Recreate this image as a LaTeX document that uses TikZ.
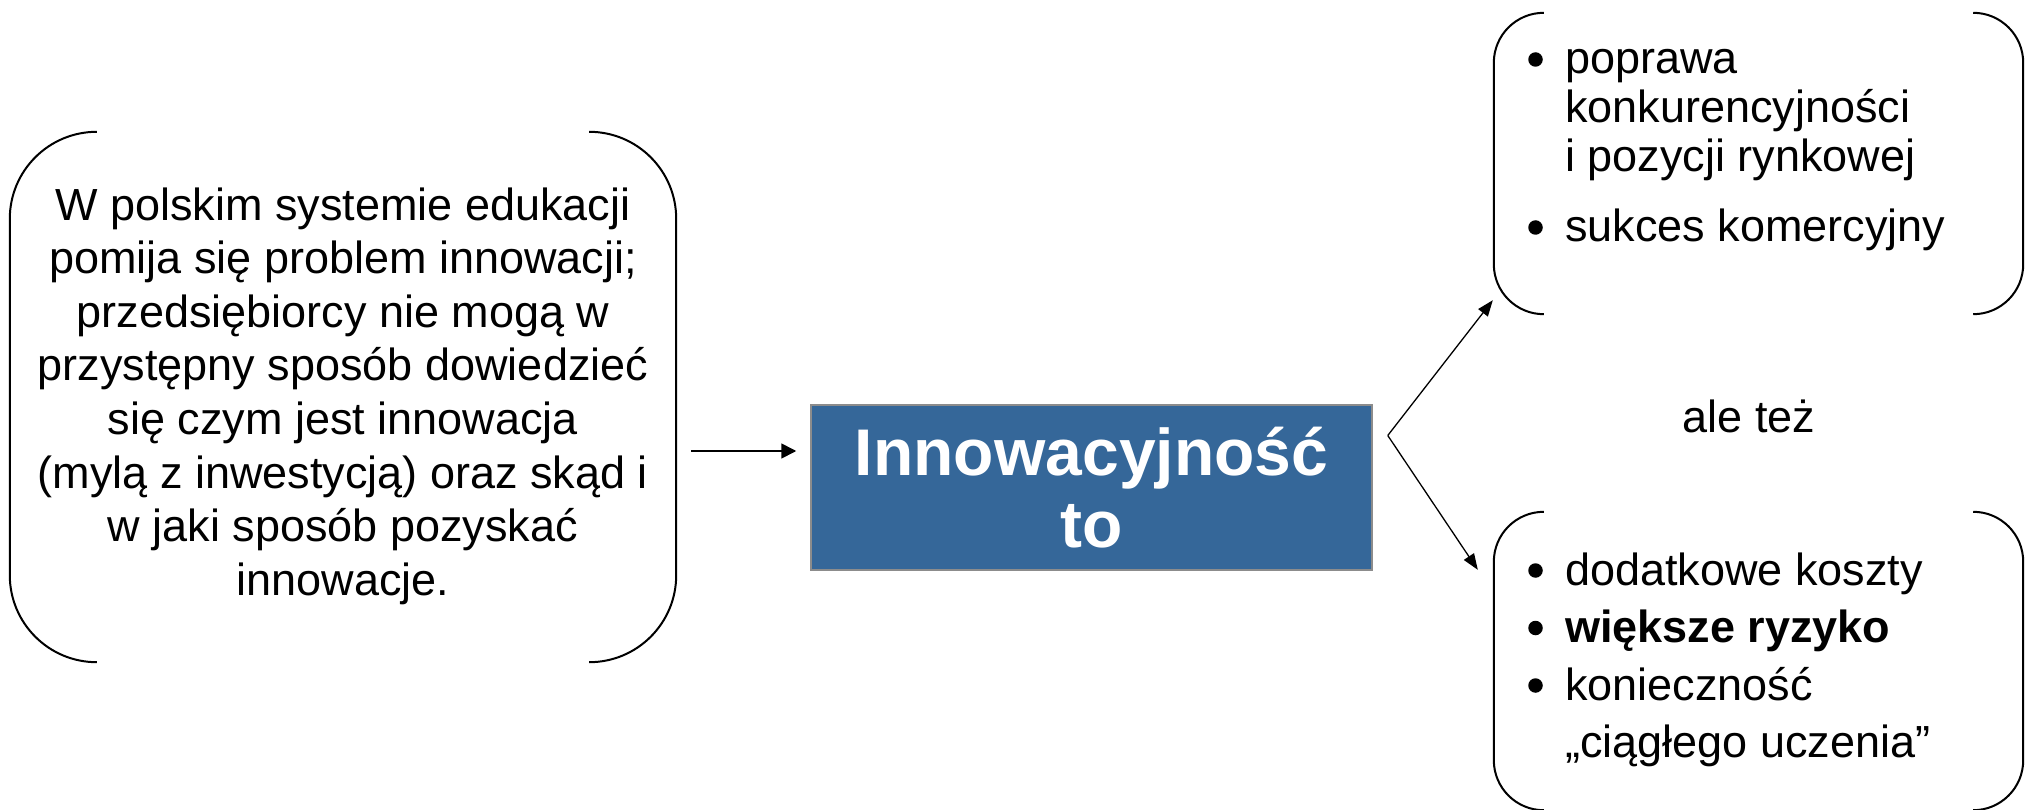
\documentclass[tikz,border=0pt]{standalone}
\usepackage{fontspec}
\setmainfont{Liberation Sans}
\usetikzlibrary{arrows.meta,calc}
\definecolor{boxblue}{RGB}{53,103,153}
\definecolor{boxedge}{RGB}{140,140,140}
\begin{document}
\begin{tikzpicture}[x=1pt,y=-1pt,
  area/.style={inner sep=0pt, minimum width=#1},
  br/.style={draw=black, line width=2pt, rounded corners=#1},
  arr/.style={line width=1.7pt, -{Triangle[length=15pt,width=15pt]}},
  fork/.style={line width=1.3pt, -{Triangle[length=16pt,width=12pt]}},
  txt/.style={inner sep=0pt, font=\fontsize{45}{53.6}\selectfont},
  bul/.style={circle, fill=black, inner sep=0pt, minimum size=14.5pt},
]
\useasboundingbox (0,0) rectangle (2028,810);

% bracket areas
\node[area=666, minimum height=530] (L) at (343,397) {};
\node[area=529, minimum height=301] (TR) at (1758.5,163.5) {};
\node[area=529, minimum height=298] (BR) at (1758.5,661) {};

% bracket pairs
\draw[br=87] ($(L.north west)+(87,0)$) -- (L.north west) -- (L.south west) -- ($(L.south west)+(87,0)$);
\draw[br=87] ($(L.north east)+(-87,0)$) -- (L.north east) -- (L.south east) -- ($(L.south east)+(-87,0)$);
\draw[br=50] ($(TR.north west)+(50,0)$) -- (TR.north west) -- (TR.south west) -- ($(TR.south west)+(50,0)$);
\draw[br=50] ($(TR.north east)+(-50,0)$) -- (TR.north east) -- (TR.south east) -- ($(TR.south east)+(-50,0)$);
\draw[br=50] ($(BR.north west)+(50,0)$) -- (BR.north west) -- (BR.south west) -- ($(BR.south west)+(50,0)$);
\draw[br=50] ($(BR.north east)+(-50,0)$) -- (BR.north east) -- (BR.south east) -- ($(BR.south east)+(-50,0)$);

% left text (base = last line's baseline)
\node[txt, anchor=base, align=center] (Ltext) at (343,595.2)
  {W polskim systemie edukacji\\
   pomija się problem innowacji;\\
   przedsiębiorcy nie mogą w\\
   przystępny sposób dowiedzieć\\
   się czym jest innowacja\\
   (mylą z inwestycją) oraz skąd i\\
   w jaki sposób pozyskać\\
   innowacje.};

% centre box
\node[draw=boxedge, line width=1.5pt, fill=boxblue, text=white,
      minimum width=561, minimum height=165, inner sep=0pt, align=center,
      font=\bfseries\fontsize{66}{72}\selectfont] (C) at (1091.5,487.5)
  {Innowacyjność\\to};

% top-right list
\node[bul] (b1) at (1535.5,59.5) {};
\node[bul] (b2) at (1535.5,227.5) {};
\node[inner sep=0pt, anchor=base west, align=left, font=\fontsize{45}{49}\selectfont] (t1) at (1565,172)
  {poprawa\\konkurencyjności\\i pozycji rynkowej};
\node[inner sep=0pt, anchor=base west, font=\fontsize{45}{49}\selectfont] (t2) at (1565,242)
  {sukces komercyjny};

% middle label
\node[inner sep=0pt, anchor=base, font=\fontsize{45}{49}\selectfont] (ale) at (1749,432) {ale też};

% bottom-right list
\node[bul] (b3) at (1535.5,570.5) {};
\node[bul] (b4) at (1535.5,628) {};
\node[bul] (b5) at (1535.5,685.5) {};
\node[inner sep=0pt, anchor=base west, align=left, font=\fontsize{45}{57.5}\selectfont] (t3) at (1565,757.5)
  {dodatkowe koszty\\\textbf{większe ryzyko}\\konieczność\\„ciągłego uczenia”};

% connectors
\coordinate (a0) at ($(L.east)+(15,54)$);
\draw[arr, shorten >=14pt] (a0) -- (a0 -| C.west);
\coordinate (fk) at ($(C.east)+(15,-52)$);
\coordinate (tipT) at ($(TR.south west)+(-1,-14)$);
\coordinate (tipB) at ($(BR.north west)+(-16,58)$);
\draw[fork] (fk) -- (tipT);
\draw[fork] (fk) -- (tipB);
\end{tikzpicture}
\end{document}
